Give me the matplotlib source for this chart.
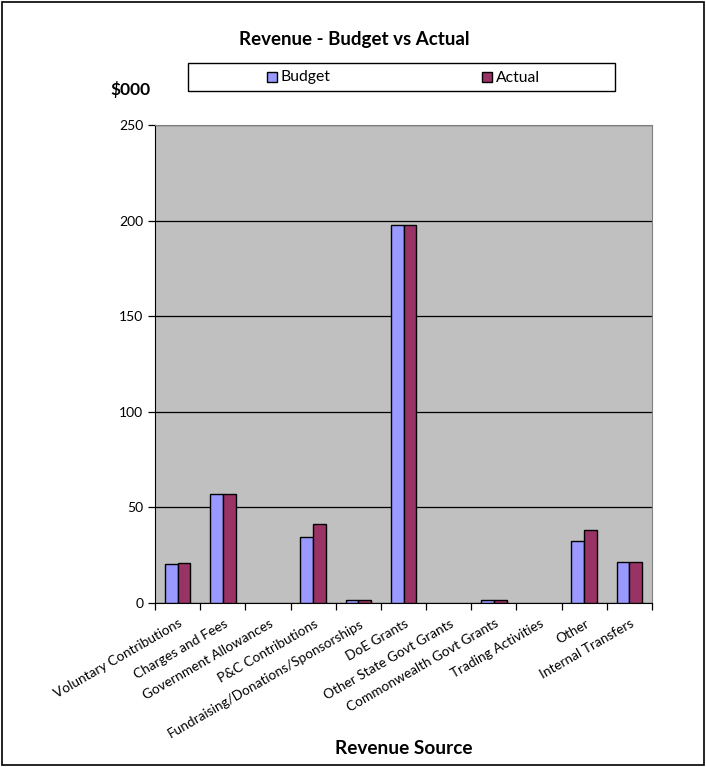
import matplotlib
matplotlib.use("Agg")
import matplotlib.pyplot as plt
import numpy as np
from matplotlib.patches import Rectangle

plt.rcParams['font.family'] = ['Lato', 'DejaVu Sans']

categories = ["Voluntary Contributions", "Charges and Fees", "Government Allowances",
              "P&C Contributions", "Fundraising/Donations/Sponsorships", "DoE Grants",
              "Other State Govt Grants", "Commonwealth Govt Grants", "Trading Activities",
              "Other", "Internal Transfers"]
budget = [20.3, 56.8, 0, 34.7, 1.7, 197.9, 0, 1.4, 0, 32.3, 21.4]
actual = [21.1, 57.1, 0, 41.5, 1.7, 197.9, 0, 1.4, 0, 38.2, 21.4]
yticks = [0, 50, 100, 150, 200, 250]
series_names = ["Budget", "Actual"]
series_colors = ["#9999ff", "#993366"]

W, H = 706, 767
fig = plt.figure(figsize=(W / 100, H / 100), dpi=100)


def fx(px):
    return px / W


def fy(py):
    return 1 - py / H


# outer frame
fig.patches.append(Rectangle((0.003, 0.003), 0.994, 0.994, transform=fig.transFigure,
                             fill=False, edgecolor="black", linewidth=1.2))

ax = fig.add_axes([fx(155), fy(603), fx(652) - fx(155), fy(125) - fy(603)])
ax.set_facecolor("#c0c0c0")

x = np.arange(len(categories))
w = 0.283
for vals, off, col, name in zip([budget, actual], [-w / 2, w / 2], series_colors, series_names):
    bars = ax.bar(x + off, vals, w, color=col, edgecolor="black", linewidth=1.0, label=name, zorder=3)
    for b, v in zip(bars, vals):
        if v == 0:
            b.set_visible(False)

ax.set_xlim(-0.5, len(categories) - 0.5)
ax.set_ylim(0, 250)
ax.set_yticks(yticks)
ax.set_yticklabels([str(v) for v in yticks], fontsize=10)
ax.yaxis.grid(True, color="black", linewidth=0.9, zorder=1)
ax.set_axisbelow(True)

ax.set_xticks(np.arange(len(categories) + 1) - 0.5)
ax.set_xticklabels([])
ax.tick_params(axis="x", length=5, width=0.9, direction="out")
ax.tick_params(axis="y", length=5, width=0.9, direction="out")
for i, c in enumerate(categories):
    ax.text(i + 0.02, -7.5, c, rotation=30, ha="right", va="top", fontsize=9.8,
            rotation_mode="anchor", transform=ax.transData)

for s in ["top", "right"]:
    ax.spines[s].set_color("#808080")
for s in ["left", "bottom"]:
    ax.spines[s].set_color("black")

fig.text(fx(354), fy(39), "Revenue - Budget vs Actual", ha="center", va="center",
         fontsize=13.5, fontweight="bold")
fig.text(fx(130), fy(90), "$000", ha="center", va="center", fontsize=12.5, fontweight="bold")
fig.text(fx(404), fy(748), "Revenue Source", ha="center", va="center", fontsize=13.7, fontweight="bold")

# legend box with swatches
fig.patches.append(Rectangle((fx(188), fy(91)), fx(615) - fx(188), fy(63) - fy(91),
                             transform=fig.transFigure, facecolor="white", edgecolor="black",
                             linewidth=1.0))
for name, col, px in zip(series_names, series_colors, [267, 482]):
    fig.patches.append(Rectangle((fx(px), fy(82)), fx(10), fy(72) - fy(82),
                                 transform=fig.transFigure, facecolor=col, edgecolor="black",
                                 linewidth=1.0))
    fig.text(fx(px + 14), fy(77.5), name, ha="left", va="center", fontsize=11.3)

fig.savefig("out.png", dpi=100, facecolor="white")
